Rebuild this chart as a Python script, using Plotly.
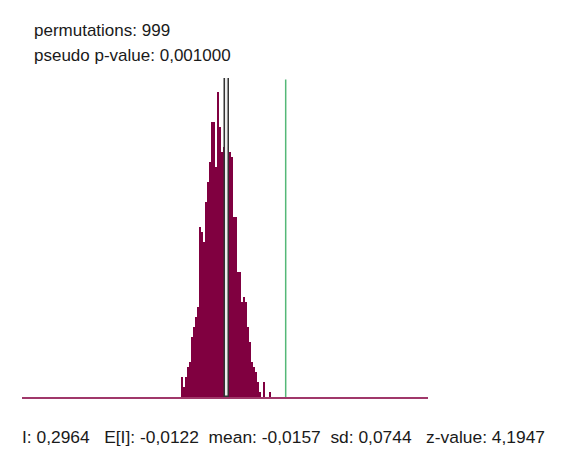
import plotly.graph_objects as go

# permutation histogram (GeoDa style Moran's I)
bin_lo = -0.2614
bin_w = 0.0107
counts = [4, 2, 4, 6, 7, 12, 14, 16, 18, 34, 33, 31, 39, 43, 47, 55, 55, 46,
          61, 54, 49, 50, 51, 49, 49, 48, 36, 36, 25, 25, 19, 20, 19, 14, 11,
          7, 6, 5, 3, 1, 0, 3, 0, 0, 1]

I_obs = 0.2964
E_I = -0.0122
mean_perm = -0.0157
sd_perm = 0.0744
z_value = 4.1947
permutations = 999
p_value = 0.001

ymax = 63.8

def fmt(v):
    return f"{v:.4f}".replace(".", ",")

centers = [bin_lo + bin_w * (i + 0.5) for i in range(len(counts))]

fig = go.Figure()
fig.add_trace(go.Bar(x=centers, y=counts, width=bin_w,
                     marker=dict(color="#800040", line=dict(width=0))))
# bar marking the mean of the permuted values
fig.add_trace(go.Bar(x=[mean_perm], y=[ymax], width=0.021,
                     marker=dict(color="#ececec", line=dict(color="#333333", width=1.5))))
# observed I
fig.add_trace(go.Scatter(x=[I_obs, I_obs], y=[0, ymax * 0.995], mode="lines",
                         line=dict(color="#55b878", width=1.5)))

txt = dict(size=17, color="#1a1a1a")
fig.add_annotation(xref="paper", yref="paper", x=0.025, y=1.0, yshift=48,
                   xanchor="left", yanchor="middle", showarrow=False,
                   text=f"permutations: {permutations}", font=txt)
fig.add_annotation(xref="paper", yref="paper", x=0.025, y=1.0, yshift=23,
                   xanchor="left", yanchor="middle", showarrow=False,
                   text=f"pseudo p-value: {p_value:.6f}".replace(".", ","), font=txt)
sp = "\u00a0"
bottom = (f"I: {fmt(I_obs)}{sp*3}E[I]: {fmt(E_I)}{sp*2}mean: {fmt(mean_perm)}"
          f"{sp*2}sd: {fmt(sd_perm)}{sp*3}z-value: {fmt(z_value)}")
fig.add_annotation(xref="paper", yref="paper", x=-0.005, y=0, yshift=-40,
                   xanchor="left", yanchor="middle", showarrow=False,
                   text=bottom, font=dict(size=17.4, color="#1a1a1a"))

fig.update_layout(
    width=580, height=454,
    margin=dict(l=14, r=160, t=70, b=65),
    paper_bgcolor="white", plot_bgcolor="white",
    showlegend=False, barmode="overlay", bargap=0,
    font=dict(family="Liberation Sans, Arial, sans-serif"),
)
fig.update_xaxes(range=[-1.113, 1.057], showgrid=False, zeroline=False,
                 showticklabels=False, ticks="", showline=True,
                 linecolor="#a0386a", linewidth=2)
fig.update_yaxes(range=[0, ymax], showgrid=False, zeroline=False,
                 showticklabels=False, ticks="", showline=False)

fig.write_html("out.html")
